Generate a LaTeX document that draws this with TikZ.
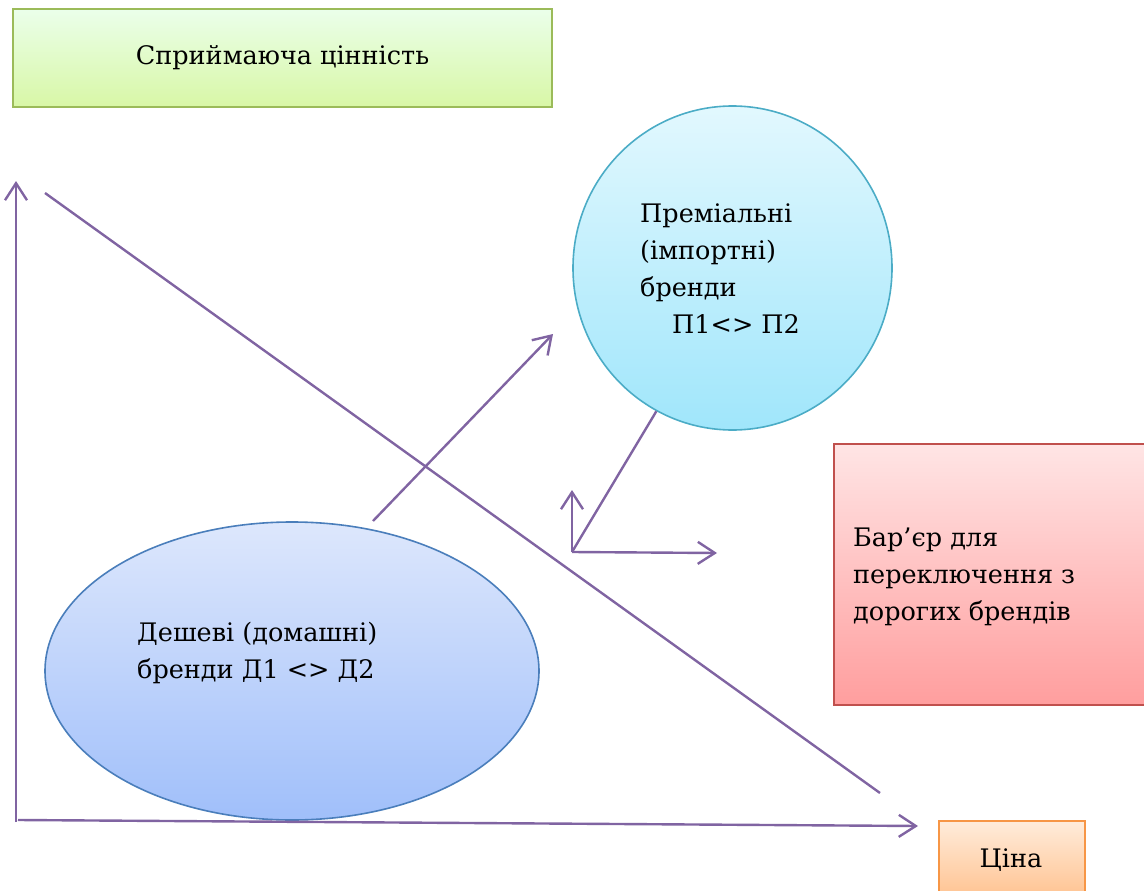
\documentclass[tikz,border=0pt]{standalone}
\usepackage{fontspec}
\setmainfont{DejaVu Serif}
\usetikzlibrary{arrows.meta,shapes.geometric}

\definecolor{lineviolet}{HTML}{8064A2}
\definecolor{greenedge}{HTML}{9BBB59}
\definecolor{blueedge}{HTML}{4A7EBB}
\definecolor{cyanedge}{HTML}{4BACC6}
\definecolor{rededge}{HTML}{C0504D}
\definecolor{orangeedge}{HTML}{F79646}

\tikzset{
	fbox/.style={draw, line width=1.6pt, inner sep=0pt},
	txt/.style={align=left, inner sep=0pt, font=\fontsize{25.5}{37}\selectfont},
	vline/.style={draw=lineviolet, line width=2.4pt},
	varrow/.style={vline, -{Straight Barb[length=17pt,width=22pt,line width=2.4pt]}}
}

\begin{document}
\begin{tikzpicture}[x=1pt,y=-1pt]
		\useasboundingbox (0,0) rectangle (1144,891);
		
		\node [fbox, draw=greenedge, top color=green!8!white, bottom color={rgb,255:red,216;green,247;blue,166}, minimum width=539pt, minimum height=98pt, font=\fontsize{25.5}{37}\selectfont] (value) at (282.5,58) {Сприймаюча цінність};
		
		% axes and the dividing line
		\coordinate (yo) at (16,822); \coordinate (ytop) at (16,181);
		\coordinate (xo) at (18,820); \coordinate (xend) at (918,826);
		\coordinate (d1) at (45,193); \coordinate (d2) at (880,793);
		
		\node [ellipse, fbox, draw=blueedge, top color={rgb,255:red,221;green,231;blue,252}, bottom color={rgb,255:red,160;green,191;blue,250}, minimum width=494pt, minimum height=298pt] (cheap) at (292,671) {};
		\node [txt, anchor=west] (cheaptxt) at (137,653) {Дешеві (домашні)\\бренди Д1 <> Д2};
		
		\node [ellipse, fbox, draw=cyanedge, top color={rgb,255:red,226;green,248;blue,254}, bottom color={rgb,255:red,160;green,230;blue,251}, minimum width=319pt, minimum height=324pt] (premium) at (732.5,268) {};
		\node [txt, anchor=west] (premiumtxt) at (640,269) {Преміальні\\(імпортні)\\бренди\\\hspace*{32pt}П1<> П2};
		
		\node [fbox, draw=rededge, top color={rgb,255:red,255;green,229;blue,229}, bottom color={rgb,255:red,255;green,158;blue,158}, minimum width=330pt, minimum height=261pt, anchor=north west] (barrier) at (833,443) {};
		\node [txt, anchor=west] (barriertxt) at (853,577) {Бар’єр для\\переключення з\\дорогих брендів};
		
		\node [fbox, draw=orangeedge, top color={rgb,255:red,255;green,236;blue,219}, bottom color={rgb,255:red,255;green,192;blue,140}, minimum width=146pt, minimum height=82pt, anchor=north west] (price) at (938,820) {};
		\node [txt] (pricetxt) at (1011,860) {Ціна};
		
		\draw [varrow] (yo) -- (ytop);
		\draw [varrow] (xo) -- (xend);
		\draw [vline] (d1) -- (d2);
		
		\coordinate (up1) at (373,521); \coordinate (up2) at (553,334);
		\draw [varrow] (up1) -- (up2);
		
		\coordinate (corner) at (572,552);
		\coordinate (cup) at (572,490); \coordinate (cright) at (717,553);
		\draw [vline] (premium.242) -- (corner);
		\draw [varrow] (corner) -- (cup);
		\draw [varrow] (corner) -- (cright);
\end{tikzpicture}
\end{document}
